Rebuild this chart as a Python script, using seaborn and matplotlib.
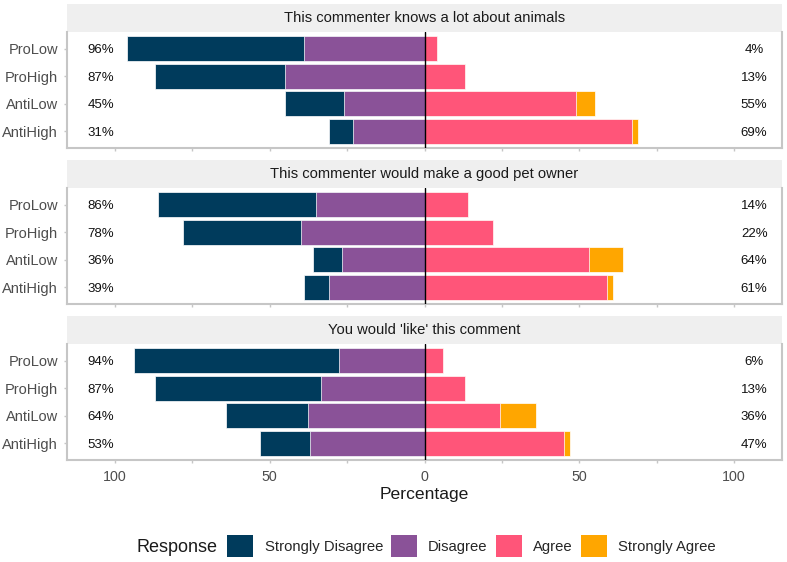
import matplotlib
matplotlib.use("Agg")
import matplotlib.pyplot as plt
import seaborn as sns
import pandas as pd
from matplotlib.patches import Patch

# ---------------- data ----------------
groups = ["ProLow", "ProHigh", "AntiLow", "AntiHigh"]
questions = [
    "This commenter knows a lot about animals",
    "This commenter would make a good pet owner",
    "You would 'like' this comment",
]
responses = ["Strongly Disagree", "Disagree", "Agree", "Strongly Agree"]

strongly_disagree_q1 = [57, 42, 19, 8]
disagree_q1 = [39, 45, 26, 23]
agree_q1 = [4, 13, 49, 67]
strongly_agree_q1 = [0, 0, 6, 2]

strongly_disagree_q2 = [51, 38, 9.5, 8]
disagree_q2 = [35, 40, 26.5, 31]
agree_q2 = [14, 22, 53, 59]
strongly_agree_q2 = [0, 0, 11, 2]

strongly_disagree_q3 = [66.5, 53.5, 26.5, 16]
disagree_q3 = [27.5, 33.5, 37.5, 37]
agree_q3 = [6, 13, 24.5, 45]
strongly_agree_q3 = [0, 0, 11.5, 2]

left_labels_q1 = ["96%", "87%", "45%", "31%"]
right_labels_q1 = ["4%", "13%", "55%", "69%"]
left_labels_q2 = ["86%", "78%", "36%", "39%"]
right_labels_q2 = ["14%", "22%", "64%", "61%"]
left_labels_q3 = ["94%", "87%", "64%", "53%"]
right_labels_q3 = ["6%", "13%", "36%", "47%"]

tick_values = [-100, -50, 0, 50, 100]
tick_labels = ["100", "50", "0", "50", "100"]

colors = {"Strongly Disagree": "#003B5C", "Disagree": "#8A5298",
          "Agree": "#FF5579", "Strongly Agree": "#FFA600"}

panels = [
    (strongly_disagree_q1, disagree_q1, agree_q1, strongly_agree_q1, left_labels_q1, right_labels_q1),
    (strongly_disagree_q2, disagree_q2, agree_q2, strongly_agree_q2, left_labels_q2, right_labels_q2),
    (strongly_disagree_q3, disagree_q3, agree_q3, strongly_agree_q3, left_labels_q3, right_labels_q3),
]

# ---------------- figure ----------------
sns.set_theme(style="white")
plt.rcParams["font.family"] = ["Liberation Sans", "DejaVu Sans"]

W, H = 787, 562
fig = plt.figure(figsize=(W / 100, H / 100), dpi=100)

def rect(top_px, h_px, left_px=67, right_px=782):
    return [left_px / W, 1 - (top_px + h_px) / H, (right_px - left_px) / W, h_px / H]

strip_tops = [4, 160, 316]
panel_tops = [32, 188, 344]
strip_h = 28
panel_h = 116
border_col = "#C6C6C6"

for i, (sd, d, a, sa, llab, rlab) in enumerate(panels):
    # strip
    sax = fig.add_axes(rect(strip_tops[i], strip_h))
    sax.set_facecolor("#EFEFEF")
    for s in sax.spines.values():
        s.set_visible(False)
    sax.set_xticks([])
    sax.set_yticks([])
    sax.text(0.5, 0.5, questions[i], ha="center", va="center",
             fontsize=10.6, color="#1A1A1A", transform=sax.transAxes)

    ax = fig.add_axes(rect(panel_tops[i], panel_h))
    df = pd.DataFrame({
        "group": groups,
        "neg_total": [-(x + y) for x, y in zip(sd, d)],
        "neg_inner": [-y for y in d],
        "pos_total": [x + y for x, y in zip(a, sa)],
        "pos_inner": list(a),
    })
    layers = [("neg_total", "Strongly Disagree"), ("neg_inner", "Disagree"),
              ("pos_total", "Strongly Agree"), ("pos_inner", "Agree")]
    for col, resp in layers:
        sns.barplot(data=df, x=col, y="group", order=groups, orient="y",
                    color=colors[resp], saturation=1, width=0.9,
                    edgecolor="white", linewidth=0.5, errorbar=None, ax=ax)
    ax.axvline(0, color="black", lw=1, zorder=5)

    for j, g in enumerate(groups):
        ax.text(-104.5, j, llab[j], ha="center", va="center_baseline", fontsize=9.5, color="#111111")
        ax.text(106.5, j, rlab[j], ha="center", va="center_baseline", fontsize=9.5, color="#111111")

    ax.set_xlim(-115.5, 115.5)
    ax.set_ylim(3.6, -0.6)
    ax.set_xlabel("")
    ax.set_ylabel("")
    ax.set_facecolor("white")
    ax.spines["top"].set_visible(False)
    for s in ["left", "right", "bottom"]:
        ax.spines[s].set_color(border_col)
        ax.spines[s].set_linewidth(1.5)
    ax.set_xticks(tick_values)
    ax.set_xticks([-75, -25, 25, 75], minor=True)
    if i == 2:
        ax.set_xticklabels(tick_labels)
    else:
        ax.set_xticklabels([])
    ax.tick_params(axis="x", which="both", bottom=True, length=2.5, width=1,
                   color=border_col, labelsize=10.3, labelcolor="#4D4D4D", pad=4.5)
    ax.tick_params(axis="y", left=True, length=2.5, width=1, color=border_col,
                   labelsize=10.5, labelcolor="#4D4D4D", pad=4)

fig.text(424.5 / W, 1 - 495 / H, "Percentage", ha="center", va="center",
         fontsize=12.6, color="#1A1A1A")

handles = [Patch(facecolor=colors[r], edgecolor="none", label=r) for r in responses]
fig.text(217 / W, 1 - 547 / H, "Response", ha="right", va="center",
         fontsize=13, color="#1A1A1A")
fig.legend(handles=handles, loc="center", bbox_to_anchor=((226 + 717) / 2 / W, 1 - 546 / H),
           ncol=4, frameon=False, fontsize=10.7, handlelength=1.75, handleheight=1.9,
           handletextpad=0.75, columnspacing=0.55, borderpad=0, borderaxespad=0)

fig.savefig("out.png", dpi=100)
